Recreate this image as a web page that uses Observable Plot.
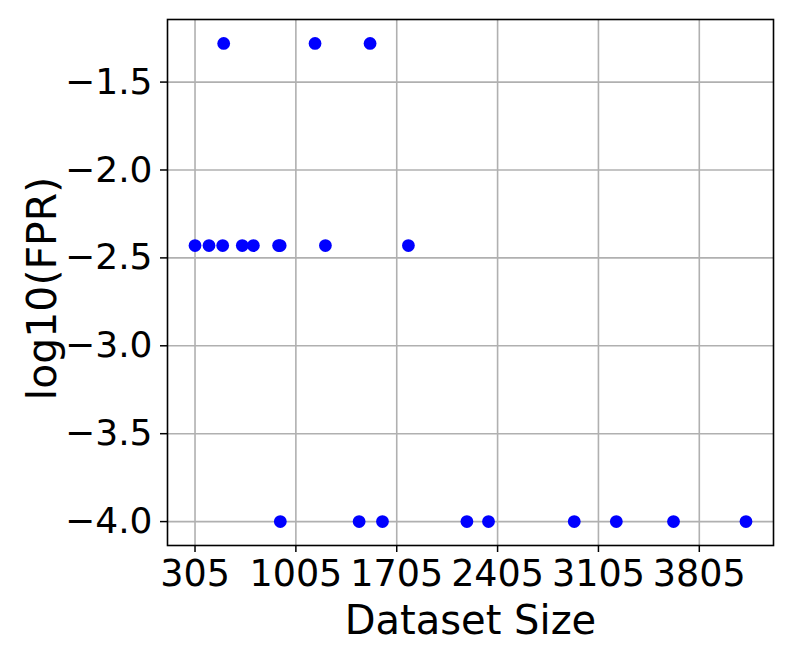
<!DOCTYPE html>
<html><head><meta charset="utf-8">
<script src="https://cdn.jsdelivr.net/npm/d3@7"></script>
<script src="https://cdn.jsdelivr.net/npm/@observablehq/plot@0.6"></script>
<style>html,body{margin:0;padding:0;background:#fff}</style>
</head><body><div id="chart"></div>
<script>
const datasetSize = [504, 1138, 1520,
  305, 402, 497, 633, 710, 885, 896, 1210, 1786,
  897, 1444, 1606, 2192, 2342, 2937, 3229, 3626, 4129];
const log10FPR = [-1.28, -1.28, -1.28,
  -2.43, -2.43, -2.43, -2.43, -2.43, -2.43, -2.43, -2.43, -2.43,
  -4.0, -4.0, -4.0, -4.0, -4.0, -4.0, -4.0, -4.0, -4.0];
const xTicks = [305, 1005, 1705, 2405, 3105, 3805];
const yTicks = [-4.0, -3.5, -3.0, -2.5, -2.0, -1.5];
const xLabel = "Dataset Size";
const yLabel = "log10(FPR)";

const data = datasetSize.map((x, i) => ({x, y: log10FPR[i]}));
const fmt = d3.format(".1f");

const chart = Plot.plot({
  width: 793, height: 661,
  marginLeft: 167, marginRight: 20, marginTop: 19, marginBottom: 116,
  style: {fontFamily: "DejaVu Sans", background: "white", color: "black"},
  x: {domain: [114, 4320]},
  y: {domain: [-4.136, -1.144]},
  marks: [
    Plot.gridX(xTicks, {stroke: "#b0b0b0", strokeOpacity: 1, strokeWidth: 1.6}),
    Plot.gridY(yTicks, {stroke: "#b0b0b0", strokeOpacity: 1, strokeWidth: 1.6}),
    Plot.axisX(xTicks, {tickSize: 7, tickPadding: 8, fontSize: 36.5, label: null, tickFormat: d => String(d), stroke: "black", strokeWidth: 1.5}),
    Plot.axisY(yTicks, {tickSize: 7, tickPadding: 8, fontSize: 36, label: null, tickFormat: fmt, stroke: "black", strokeWidth: 1.5}),
    Plot.dot(data, {x: "x", y: "y", r: 6.4, fill: "blue", stroke: null}),
    Plot.frame({stroke: "black", strokeWidth: 1.6}),
    Plot.text([xLabel], {frameAnchor: "bottom", textAnchor: "middle", lineAnchor: "bottom", dy: 88, fontSize: 40, fill: "black"}),
    Plot.text([yLabel], {frameAnchor: "left", textAnchor: "middle", lineAnchor: "bottom", rotate: -90, dx: -112, dy: 6, fontSize: 41, fill: "black"})
  ]
});
document.getElementById("chart").appendChild(chart);
</script>
</body></html>
